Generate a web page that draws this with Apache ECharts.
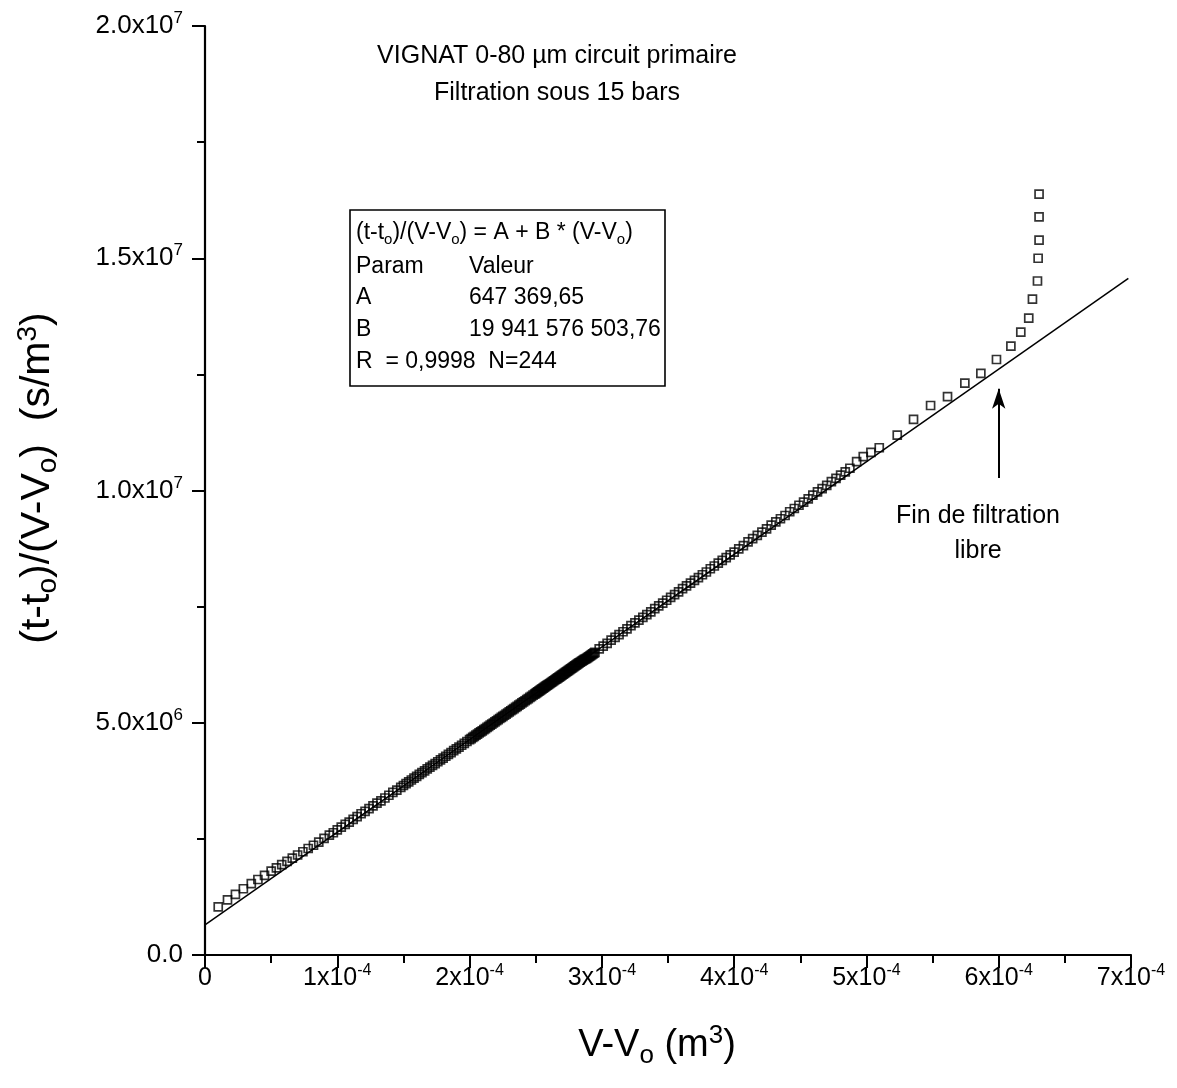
<!DOCTYPE html>
<html><head><meta charset="utf-8">
<script src="https://cdn.jsdelivr.net/npm/echarts@6/dist/echarts.min.js"></script>
<style>html,body{margin:0;padding:0;background:#fff}#c{width:1177px;height:1088px}</style>
</head><body><div id="c"></div>
<script>
// ---------- tick labels ----------
const xTickBase = ['0','1x10','2x10','3x10','4x10','5x10','6x10','7x10'];
const xTickSup  = ['', '-4','-4','-4','-4','-4','-4','-4'];
const yTickBase = ['0.0','5.0x10','1.0x10','1.5x10','2.0x10'];
const yTickSup  = ['', '6','7','7','7'];

// ---------- data : V-Vo in 1e-4 m3, (t-to)/(V-Vo) in 1e6 s/m3 ----------
const volume_e4 = [
0.10,0.17,0.23,0.29,0.35,0.40,0.45,0.50,
0.54,0.58,0.62,0.66,0.70,0.74,0.78,0.82,0.86,0.90,0.94,0.97,1.00,
1.03,1.06,1.09,1.12,1.15,1.18,1.21,1.24,1.27,1.30,1.33,1.36,1.39,1.42,1.45,1.48,
1.50,1.52,1.54,1.56,1.58,1.60,1.62,1.64,1.66,1.68,1.70,1.72,1.74,1.76,1.78,1.80,1.82,1.84,1.86,1.88,1.90,1.92,1.94,1.96,1.98,2.00,
2.012,2.024,2.036,2.048,2.060,2.072,2.084,2.096,2.108,2.120,2.132,2.144,2.156,2.168,2.180,2.192,2.204,2.216,2.228,2.240,2.252,2.264,2.276,2.288,2.300,2.312,2.324,2.336,2.348,2.360,2.372,2.384,2.396,2.408,2.420,2.432,2.444,2.456,2.468,2.480,2.492,
2.500,2.508,2.516,2.524,2.532,2.540,2.548,2.556,2.564,2.572,2.580,2.588,2.596,2.604,2.612,2.620,2.628,2.636,2.644,2.652,2.660,2.668,2.676,2.684,2.692,2.700,2.708,2.716,2.724,2.732,2.740,2.748,2.756,2.764,2.772,2.780,2.788,2.796,2.804,2.812,2.820,2.828,2.836,2.844,2.852,2.860,2.868,2.876,2.884,2.892,2.900,2.908,2.916,2.924,2.932,2.940,2.948,
2.98,3.01,3.04,3.07,3.10,3.13,3.16,3.19,3.22,3.25,3.28,3.31,3.34,3.37,3.40,3.43,3.46,3.49,3.52,3.55,3.58,3.61,3.64,3.67,3.70,3.73,3.76,3.79,3.82,3.85,3.88,3.91,3.94,3.97,4.00,
4.035,4.070,4.105,4.140,4.175,4.210,4.245,4.280,4.315,4.350,4.385,4.420,4.455,4.490,4.525,4.560,4.595,4.630,4.665,4.700,4.735,4.770,4.805,4.840,4.875,
4.926,4.976,5.034,5.097,5.233,5.356,5.485,5.613,5.744,5.865,5.983,6.092,6.167,6.227,6.255,6.293,6.298,6.305,6.305,6.305
];
const ratio_e6 = [
1.037,1.186,1.306,1.426,1.535,1.625,1.715,1.805,
1.874,1.944,2.014,2.084,2.153,2.223,2.293,2.363,2.432,2.512,2.582,2.632,2.692,
2.751,2.811,2.861,2.921,2.981,3.041,3.090,3.150,3.210,3.270,3.320,3.380,3.439,3.499,3.549,3.609,
3.649,3.689,3.727,3.768,3.807,3.846,3.887,3.926,3.966,4.005,4.044,4.083,4.121,4.160,4.200,4.240,4.279,4.318,4.358,4.398,4.437,4.476,4.516,4.556,4.596,4.636,
4.660,4.684,4.708,4.732,4.756,4.780,4.803,4.827,4.851,4.875,4.899,4.923,4.947,4.971,4.995,5.019,5.043,5.067,5.091,5.115,5.139,5.162,5.186,5.210,5.234,5.258,5.282,5.306,5.330,5.354,5.378,5.402,5.426,5.450,5.474,5.498,5.521,5.545,5.569,5.593,5.617,
5.633,5.649,5.665,5.681,5.697,5.713,5.729,5.745,5.761,5.776,5.792,5.808,5.824,5.840,5.856,5.872,5.888,5.904,5.920,5.936,5.952,5.968,5.984,6.000,6.016,6.032,6.048,6.064,6.080,6.095,6.111,6.127,6.143,6.159,6.175,6.191,6.207,6.223,6.239,6.255,6.271,6.287,6.303,6.319,6.334,6.350,6.366,6.372,6.388,6.404,6.420,6.436,6.452,6.468,6.484,6.500,6.516,
6.590,6.650,6.710,6.780,6.839,6.899,6.959,7.019,7.089,7.149,7.209,7.268,7.328,7.388,7.458,7.518,7.577,7.637,7.697,7.757,7.817,7.887,7.946,8.006,8.066,8.126,8.186,8.245,8.315,8.375,8.435,8.495,8.555,8.614,8.674,
8.744,8.814,8.894,8.964,9.033,9.103,9.173,9.253,9.323,9.392,9.462,9.542,9.612,9.682,9.751,9.821,9.901,9.971,10.041,10.110,10.190,10.260,10.330,10.400,10.479,
10.62,10.73,10.82,10.92,11.19,11.53,11.83,12.02,12.31,12.52,12.82,13.11,13.41,13.71,14.12,14.51,15.00,15.39,15.89,16.38
];

// linear fit parameters (from the inset)
const fitA = 647369.65;
const fitB = 19941576503.76;
const fitXEnd = 6.98e-4;

// annotation arrow (data coordinates)
const arrowX = 6.0e-4, arrowYFrom = 10.27e6, arrowYTo = 12.19e6;

const FONT = "'Liberation Sans', Arial, sans-serif";
const points = volume_e4.map((v, i) => [v * 1e-4, ratio_e6[i] * 1e6]);
const fitLine = [[0, fitA], [fitXEnd, fitA + fitB * fitXEnd]];

const chart = echarts.init(document.getElementById('c'), null, {renderer: 'canvas'});

const xTickRich = {
  b: {fontSize: 25, fontFamily: FONT, color: '#000', lineHeight: 31, verticalAlign: 'middle'},
  s: {fontSize: 16, fontFamily: FONT, color: '#000', lineHeight: 15, verticalAlign: 'top'}
};
const yTickRich = {
  b: {fontSize: 26, fontFamily: FONT, color: '#000', lineHeight: 32, verticalAlign: 'middle'},
  s: {fontSize: 17, fontFamily: FONT, color: '#000', lineHeight: 15, verticalAlign: 'top'}
};
const axisCommon = {
  axisLine: {show: true, onZero: false, lineStyle: {color: '#000', width: 2.2}},
  axisTick: {show: true, inside: false, length: 13, lineStyle: {color: '#000', width: 2}},
  minorTick: {show: true, splitNumber: 2, length: 8, lineStyle: {color: '#000', width: 2}},
  splitLine: {show: false},
  minorSplitLine: {show: false}
};

const nameRich = {
  n: {fontSize: 38, fontFamily: FONT, color: '#000', lineHeight: 46, verticalAlign: 'middle'},
  sb: {fontSize: 26, fontFamily: FONT, color: '#000', lineHeight: 24, verticalAlign: 'bottom'},
  sp: {fontSize: 26, fontFamily: FONT, color: '#000', lineHeight: 24, verticalAlign: 'top'}
};
const yNameRich = {
  n: {fontSize: 41, fontFamily: FONT, color: '#000', lineHeight: 48, verticalAlign: 'middle'},
  sb: {fontSize: 28, fontFamily: FONT, color: '#000', lineHeight: 25, verticalAlign: 'bottom'},
  sp: {fontSize: 28, fontFamily: FONT, color: '#000', lineHeight: 25, verticalAlign: 'top'}
};
const boxRich = {
  n: {fontSize: 23, fontFamily: FONT, color: '#000', lineHeight: 28, verticalAlign: 'middle'},
  sb: {fontSize: 15, fontFamily: FONT, color: '#000', lineHeight: 14, verticalAlign: 'bottom'}
};
function txt(x, y, text, size, align) {
  return {type: 'text', x: x, y: y, silent: true,
    style: {text: text, fontSize: size, fontFamily: FONT, fill: '#000', align: align || 'left', verticalAlign: 'middle'}};
}

const option = {
  animation: false,
  backgroundColor: '#fff',
  grid: {left: 205, right: 46, top: 26, bottom: 133, containLabel: false},
  xAxis: Object.assign({
    type: 'value', min: 0, max: 7e-4, interval: 1e-4,
    axisLabel: {margin: 8, color: '#000', rich: xTickRich,
      formatter: v => { const i = Math.round(v / 1e-4); return xTickSup[i] ? `{b|${xTickBase[i]}}{s|${xTickSup[i]}}` : `{b|${xTickBase[i]}}`; }}
  }, axisCommon),
  yAxis: Object.assign({
    type: 'value', min: 0, max: 2e7, interval: 5e6,
    axisLabel: {margin: 22, color: '#000', rich: yTickRich,
      formatter: v => { const i = Math.round(v / 5e6); return yTickSup[i] ? `{b|${yTickBase[i]}}{s|${yTickSup[i]}}` : `{b|${yTickBase[i]}}`; }}
  }, axisCommon),
  series: [
    {
      type: 'line', data: fitLine, showSymbol: false, silent: true, z: 2,
      lineStyle: {color: '#000', width: 1.5},
      markLine: {
        silent: true, symbol: ['none', 'arrow'], symbolSize: [10, 20],
        label: {show: false},
        lineStyle: {color: '#000', width: 2, type: 'solid'},
        data: [[{coord: [arrowX, arrowYFrom]}, {coord: [arrowX, arrowYTo]}]]
      }
    },
    {
      type: 'scatter', data: points, symbol: 'rect', symbolSize: 8, silent: true, z: 3,
      itemStyle: {color: 'rgba(0,0,0,0)', borderColor: '#000', borderWidth: 1.7}
    }
  ],
  graphic: [
    txt(557, 56, 'VIGNAT 0-80 µm circuit primaire', 25, 'center'),
    txt(557, 93, 'Filtration sous 15 bars', 25, 'center'),
    txt(978, 516, 'Fin de filtration', 25, 'center'),
    txt(978, 551, 'libre', 25, 'center'),
    {type: 'rect', silent: true, shape: {x: 350, y: 210, width: 315, height: 176},
     style: {fill: '#fff', stroke: '#000', lineWidth: 1.6}},
    {type: 'text', x: 356, y: 233, silent: true,
     style: {text: '{n|(t-t}{sb|o}{n|)/(V-V}{sb|o}{n|) = A + B * (V-V}{sb|o}{n|)}', rich: boxRich, align: 'left', verticalAlign: 'middle'}},
    txt(356, 267, 'Param', 23), txt(469, 267, 'Valeur', 23),
    txt(356, 298, 'A', 23), txt(469, 298, '647 369,65', 23),
    txt(356, 330, 'B', 23), txt(469, 330, '19 941 576 503,76', 23),
    txt(356, 362, 'R  = 0,9998  N=244', 23),
    {type: 'text', x: 657, y: 1046, silent: true,
     style: {text: '{n|V-V}{sb|o}{n| (m}{sp|3}{n|)}', rich: nameRich, align: 'center', verticalAlign: 'middle'}},
    {type: 'text', x: 38, y: 478, rotation: Math.PI / 2, silent: true,
     style: {text: '{n|(t-t}{sb|o}{n|)/(V-V}{sb|o}{n|)  (s/m}{sp|3}{n|)}', rich: yNameRich, align: 'center', verticalAlign: 'middle'}}
  ]
};
chart.setOption(option);
</script>
</body></html>
